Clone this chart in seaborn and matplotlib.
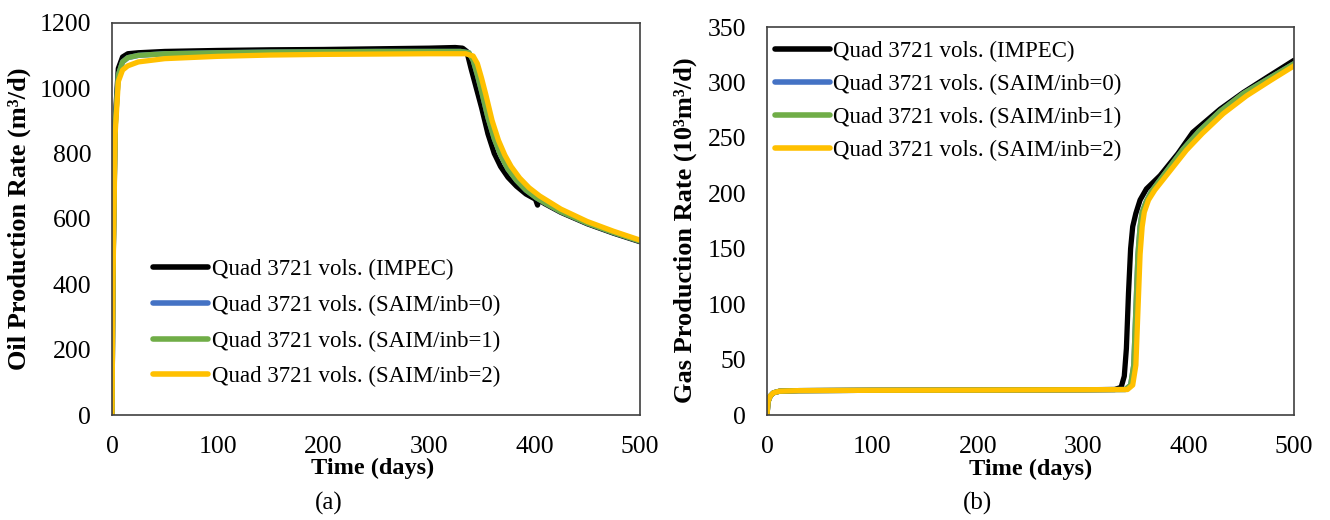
import numpy as np
import pandas as pd
import matplotlib
matplotlib.use("Agg")
import matplotlib.pyplot as plt
import seaborn as sns

series_names = ["Quad 3721 vols. (IMPEC)", "Quad 3721 vols. (SAIM/inb=0)",
                "Quad 3721 vols. (SAIM/inb=1)", "Quad 3721 vols. (SAIM/inb=2)"]
series_colors = ["#000000", "#4472C4", "#70AD47", "#FFC000"]

# ---- Oil production rate (m3/d) ----
oil_t_impec = [0, 1, 3, 6, 10, 15, 25, 50, 100, 150, 200, 250, 300, 325, 332, 336, 340, 345, 350, 356, 362, 368, 375, 383, 392, 401, 403, 404, 410, 425, 450, 475, 500]
oil_impec   = [0, 450, 900, 1060, 1095, 1105, 1108, 1112, 1115, 1117, 1118, 1120, 1122, 1124, 1122, 1112, 1060, 1000, 940, 860, 800, 760, 727, 700, 676, 660, 642, 658, 646, 620, 585, 556, 530]
oil_t_s0 = [0, 1, 3, 6, 10, 15, 25, 50, 100, 150, 200, 250, 300, 330, 338, 342, 346, 350, 356, 362, 368, 375, 383, 392, 402, 412, 425, 450, 475, 500]
oil_s0   = [0, 440, 880, 1040, 1080, 1093, 1100, 1105, 1108, 1110, 1111, 1112, 1112, 1112, 1108, 1085, 1040, 990, 910, 845, 795, 752, 718, 688, 664, 645, 622, 587, 558, 532]
oil_s1   = [0, 440, 880, 1040, 1080, 1093, 1100, 1105, 1108, 1110, 1111, 1112, 1112, 1112, 1108, 1085, 1040, 990, 910, 845, 795, 752, 718, 688, 664, 645, 622, 587, 558, 532]
oil_t_s2 = [0, 1, 3, 6, 10, 15, 25, 50, 100, 150, 200, 250, 300, 335, 342, 346, 350, 354, 360, 366, 372, 378, 386, 395, 405, 415, 425, 450, 475, 500]
oil_s2   = [0, 420, 860, 1020, 1055, 1068, 1080, 1090, 1097, 1101, 1103, 1104, 1105, 1105, 1098, 1075, 1030, 980, 900, 840, 795, 760, 725, 695, 670, 650, 630, 592, 562, 535]

# ---- Gas production rate (10^3 m3/d) ----
gas_t_impec = [0, 1, 3, 6, 12, 30, 100, 200, 300, 330, 336, 339, 341, 343, 345, 347, 350, 354, 360, 373, 390, 404, 430, 452, 475, 500]
gas_impec   = [0, 12, 17, 20, 21.5, 22, 22.3, 22.5, 22.8, 23, 25, 35, 60, 110, 150, 170, 182, 194, 204, 216, 236, 255, 276, 291, 305, 320]
gas_t_s1 = [0, 1, 3, 6, 12, 30, 100, 200, 300, 340, 345, 348, 350, 352, 354, 356, 360, 365, 380, 395, 410, 430, 452, 475, 500]
gas_s1   = [0, 12, 17, 20, 21.5, 22, 22.3, 22.5, 22.8, 23, 27, 45, 95, 145, 170, 183, 193, 202, 221, 240, 256, 274, 290, 303, 317]
gas_s0   = [0, 12, 17, 20, 21.5, 22, 22.3, 22.5, 22.8, 23, 27, 45, 95, 145, 170, 183, 193, 202, 221, 240, 256, 274, 290, 303, 317]
gas_t_s2 = [0, 1, 3, 6, 12, 30, 100, 200, 300, 342, 347, 350, 352, 354, 356, 358, 362, 368, 383, 398, 413, 433, 455, 478, 500]
gas_s2   = [0, 12, 17, 20, 21.5, 22, 22.3, 22.5, 22.8, 23, 27, 45, 95, 145, 170, 183, 194, 203, 221, 239, 254, 272, 288, 302, 315]

x_ticks = [0, 100, 200, 300, 400, 500]
oil_yticks = [0, 200, 400, 600, 800, 1000, 1200]
gas_yticks = [0, 50, 100, 150, 200, 250, 300, 350]

sns.set_theme(style="white")
plt.rcParams['font.family'] = ['Liberation Serif', 'DejaVu Serif']
plt.rcParams['text.color'] = '#000000'
plt.rcParams['axes.labelcolor'] = '#000000'
plt.rcParams['xtick.color'] = '#000000'
plt.rcParams['ytick.color'] = '#000000'

fig = plt.figure(figsize=(13.3, 5.2), dpi=100)
ax1 = fig.add_axes([0.0842, 0.2019, 0.397, 0.7545])
ax2 = fig.add_axes([0.5767, 0.2019, 0.3962, 0.746])

LW = 3.8
oil_data = [(oil_t_impec, oil_impec), (oil_t_s0, oil_s0), (oil_t_s0, oil_s1), (oil_t_s2, oil_s2)]
gas_data = [(gas_t_impec, gas_impec), (gas_t_s1, gas_s0), (gas_t_s1, gas_s1), (gas_t_s2, gas_s2)]

for ax, data in [(ax1, oil_data), (ax2, gas_data)]:
    for name, col, (t, v) in zip(series_names, series_colors, data):
        df = pd.DataFrame({"t": t, "v": v})
        sns.lineplot(data=df, x="t", y="v", ax=ax, color=col, lw=LW, label=name,
                     solid_capstyle="round", solid_joinstyle="round")

for ax in (ax1, ax2):
    ax.set_xlim(0, 500)
    ax.set_xticks(x_ticks)
    ax.tick_params(axis="both", length=0, labelsize=18.5, colors="#000000")
    ax.tick_params(axis="x", pad=15)
    ax.tick_params(axis="y", pad=15)
    for s in ax.spines.values():
        s.set_color("#404040")
        s.set_linewidth(1.2)
    ax.set_xlabel("Time (days)", fontsize=17.5, fontweight="bold", color="#000000")

ax1.set_ylim(0, 1200)
ax1.set_yticks(oil_yticks)
ax1.set_ylabel("Oil Production Rate (m³/d)", fontsize=19, fontweight="bold", color="#000000")
ax2.set_ylim(0, 350)
ax2.set_yticks(gas_yticks)
ax2.set_ylabel("Gas Production Rate (10³m³/d)", fontsize=19, fontweight="bold", color="#000000")

ax1.xaxis.set_label_coords(0.494, -0.137)
ax2.xaxis.set_label_coords(0.500, -0.139)
ax1.xaxis.label.set_va("center")
ax2.xaxis.label.set_va("center")
ax1.yaxis.set_label_coords(-0.176, 0.50)
ax2.yaxis.set_label_coords(-0.156, 0.477)
ax1.yaxis.label.set_va("center")
ax2.yaxis.label.set_va("center")

leg_kw = dict(frameon=False, fontsize=16.5, handlelength=2.4, handletextpad=0.15,
              borderaxespad=0.0, borderpad=0.0, loc="upper left", labelcolor="#000000")
l1 = ax1.legend(bbox_to_anchor=(0.078, 0.397), labelspacing=0.63, **leg_kw)
l2 = ax2.legend(bbox_to_anchor=(0.015, 0.964), labelspacing=0.52, **leg_kw)
for leg in (l1, l2):
    for line in leg.get_lines():
        line.set_linewidth(4.0)

fig.text(329 / 1330, 1 - 503 / 520, "(a)", ha="center", va="center", fontsize=18, color="#000000")
fig.text(977 / 1330, 1 - 503 / 520, "(b)", ha="center", va="center", fontsize=18, color="#000000")

fig.savefig("out.png", dpi=100, facecolor="white")
